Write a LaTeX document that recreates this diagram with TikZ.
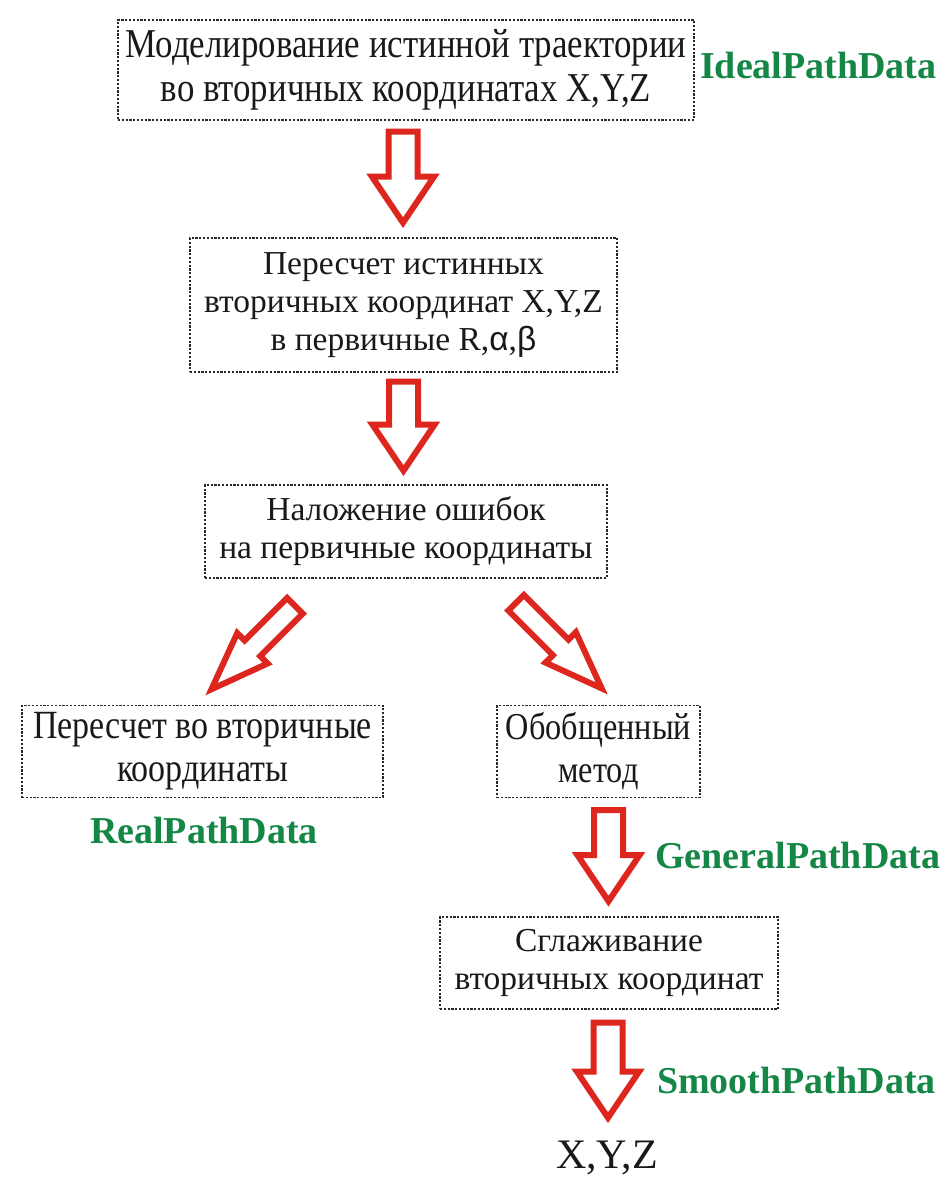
\documentclass[tikz,border=0pt]{standalone}
\usepackage{fontspec}
\setmainfont{Liberation Serif}
\newfontfamily\condfont[FakeStretch=0.85]{Liberation Serif}
\newfontfamily\greekfont{Liberation Sans}
\usetikzlibrary{calc}
\definecolor{arrred}{RGB}{220,38,30}
\definecolor{lblgreen}{RGB}{20,135,70}
\definecolor{boxline}{RGB}{40,40,40}
\tikzset{
  box/.style={draw=boxline, line width=1.4pt, dash pattern=on 2.2pt off 1.6pt, align=center, inner sep=0pt, text=black!90},
  normtext/.style={font=\fontsize{33.5}{38}\selectfont},
  condtext/.style={font=\condfont\fontsize{41}{43}\selectfont},
  lbl/.style={text=lblgreen, font=\bfseries\fontsize{38}{40}\selectfont, inner sep=0pt},
  fatarrow/.style={draw=arrred, line width=6pt, fill=white, miter limit=10},
}
% #1 tail, #2 rotation, #3 tip, #4 head length, #5 shaft half-width, #6 head half-width
\newcommand\blockarrow[6]{%
  \begin{scope}[shift={(#1)}, rotate=#2]
    \draw[fatarrow] (-#5,3) -- (-#5,#3-#4) -- (-#6,#3-#4) -- (0,#3) -- (#6,#3-#4) -- (#5,#3-#4) -- (#5,3) -- cycle;
  \end{scope}}
\begin{document}
\begin{tikzpicture}[x=1pt,y=-1pt]
\useasboundingbox (0,0) rectangle (944,1177);
\fill[white] (0,0) rectangle (944,1177);

\node[box, condtext, minimum width=576pt, minimum height=100pt] (b1) at (406,70) {Моделирование истинной траектории\\[1pt]во вторичных координатах X,Y,Z};
\node[box, normtext, minimum width=427pt, minimum height=134pt] (b2) at (403.5,305) {Пересчет истинных\\вторичных координат X,Y,Z\\в первичные R,{\greekfont α},{\greekfont β}};
\node[box, normtext, minimum width=402pt, minimum height=93pt] (b3) at (406,531.5) {Наложение ошибок\\на первичные координаты};
\node[box, condtext, font=\condfont\fontsize{40}{43}\selectfont, minimum width=361pt, minimum height=92pt] (b4) at (202.5,751.5) {Пересчет во вторичные\\координаты};
\node[box, condtext, font=\condfont\fontsize{38}{43}\selectfont, minimum width=203pt, minimum height=92pt] (b5) at (598.5,751.5) {Обобщенный\\метод};
\node[box, normtext, minimum width=338pt, minimum height=92pt] (b6) at (609,963) {Сглаживание\\вторичных координат};
\node[font=\fontsize{42}{44}\selectfont, text=black!90, inner sep=0pt] (out) at (607,1158) {X,Y,Z};

\node[lbl, anchor=west] (l1) at (700,66) {IdealPathData};
\node[lbl] (l2) at (204,830) {RealPathData};
\node[lbl, anchor=west] (l3) at (655,855) {GeneralPathData};
\node[lbl, anchor=west] (l4) at (657,1080) {SmoothPathData};

\coordinate (a1) at ($(b1.south)+(-3,8)$);
\coordinate (a2) at ($(b2.south)+(0,6)$);
\coordinate (a3) at ($(b3.south)+(-109,25)$);
\coordinate (a4) at ($(b3.south)+(108,22)$);
\coordinate (a5) at ($(b5.south)+(10,9)$);
\coordinate (a6) at ($(b6.south)+(-1,10)$);

\blockarrow{a1}{0}{94}{46}{14.5}{31}
\blockarrow{a2}{0}{92}{46}{14.5}{31}
\blockarrow{a3}{-45}{121}{58}{11}{21.5}
\blockarrow{a4}{45}{124}{58}{11}{21.5}
\blockarrow{a5}{0}{94}{46}{14.5}{31}
\blockarrow{a6}{0}{98}{46}{14.5}{31}
\end{tikzpicture}
\end{document}
